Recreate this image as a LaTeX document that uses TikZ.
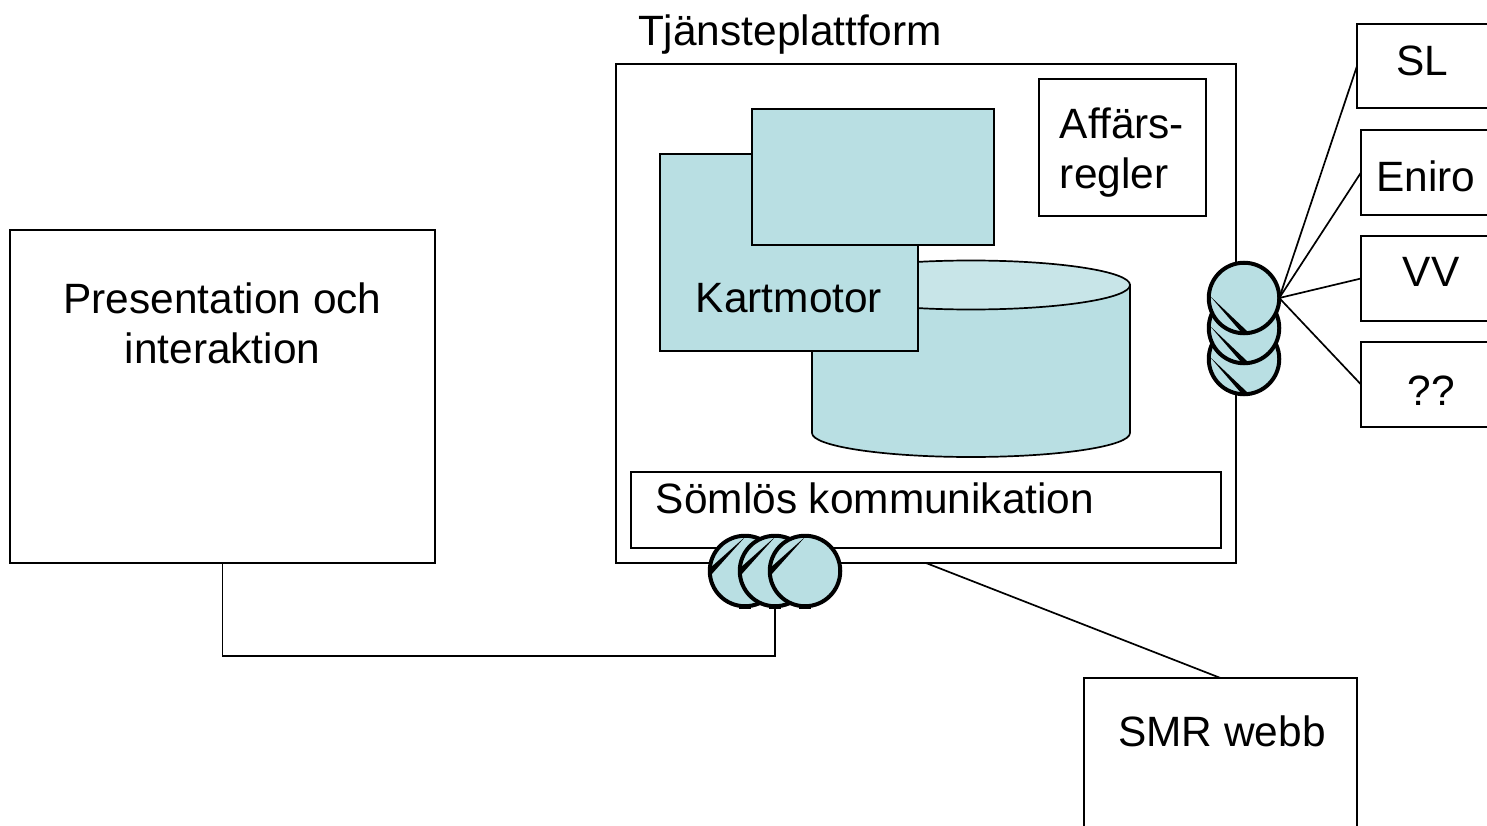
\documentclass[tikz,border=0pt]{standalone}
\usepackage{fontspec}
\setmainfont{Liberation Sans}
\usetikzlibrary{calc}
\definecolor{tealfill}{HTML}{B9DFE3}
\definecolor{tealtop}{HTML}{C8E5E8}
\tikzset{
  px/.style={x=1pt,y=-1pt},
  box/.style={draw=black,line width=1.7pt,fill=white,inner sep=0pt,outer sep=0pt,anchor=center},
  tealbox/.style={box,fill=tealfill},
  lbl/.style={inner sep=0pt,outer sep=0pt,align=center,font=\fontsize{42.4}{50}\selectfont},
  conn/.style={draw=black,line width=1.7pt},
  disc/.style={circle,draw=black,line width=4pt,fill=tealfill,minimum size=70.5pt,inner sep=0pt,outer sep=0pt},
}
\newcommand{\boxat}[7]{\node[#1,minimum width=#5pt-#3pt,minimum height=#6pt-#4pt] (#2) at ({(#3+#5)/2},{(#4+#6)/2}) {#7};}
\newcommand{\wedgeR}[1]{\fill[black] ($(#1)+(-34,-2)$) -- ($(#1)+(-3,34)$) -- ($(#1)+(3,33)$) -- cycle;}
\newcommand{\wedgeB}[1]{\fill[black] ($(#1)+(0,-34)$) -- ($(#1)+(-35,-3)$) -- ($(#1)+(-34,4)$) -- cycle;
  \fill[black] ($(#1)+(-6,35)$) rectangle ($(#1)+(6,38)$);}
\begin{document}
\begin{tikzpicture}[px]
\useasboundingbox (0,0) rectangle (1487,826);
\clip (0,0) rectangle (1487,826);
\boxat{box}{pres}{10}{230}{435}{563}{}
\boxat{box}{plat}{616}{64}{1236}{563}{}
\boxat{box}{smr}{1084}{678}{1357}{840}{}
\boxat{box}{sl}{1357}{24}{1500}{108}{}
\boxat{box}{eniro}{1361}{130}{1500}{215}{}
\boxat{box}{vv}{1361}{236}{1500}{321}{}
\boxat{box}{qq}{1361}{342}{1500}{427}{}
\boxat{box}{aff}{1039}{79}{1206}{216}{}
% cylinder
\path[fill=tealfill,draw=black,line width=1.7pt] (812,285) -- (812,433)
  arc[start angle=180,end angle=0,x radius=159,y radius=24] -- (1130,285) -- cycle;
\path[fill=tealtop,draw=black,line width=1.7pt] (971,285) ellipse[x radius=159,y radius=24.5];
\boxat{tealbox}{motor}{660}{154}{918}{351}{}
\boxat{tealbox}{top}{752}{109}{994}{245}{}
\boxat{box}{som}{631}{472}{1221}{548}{}
% discs
\node[disc] (r3) at (1244,359) {};
\wedgeR{r3.center}
\node[disc] (r2) at (1244,328) {};
\wedgeR{r2.center}
\node[disc] (r1) at (1244,298) {};
\wedgeR{r1.center}
\node[disc] (b1) at (745,571) {};
\wedgeB{b1.center}
\node[disc] (b2) at (775,571) {};
\wedgeB{b2.center}
\node[disc] (b3) at (805,571) {};
\wedgeB{b3.center}
% connectors
\coordinate (jog) at (775,656);
\draw[conn] (pres.south) |- (jog) -- (b2.south);
\draw[conn] (plat.south) -- (smr.north);
\draw[conn] (r1.east) -- (sl.west);
\draw[conn] (r1.east) -- (eniro.west);
\draw[conn] (r1.east) -- (vv.west);
\draw[conn] (r1.east) -- (qq.west);
% labels
\node[lbl] (t0) at (790,35) {Tjänsteplattform};
\node[lbl] (t1) at (222.5,323) {Presentation och\\interaktion};
\node[lbl] (t2) at (789,298) {Kartmotor};
\node[lbl,align=left] (t3) at (1122,153) {Affärs-\\regler};
\node[lbl] (t4) at (875,498) {Sömlös kommunikation};
\node[lbl] (t5) at (1222,731) {SMR webb};
\node[lbl] (t6) at (1422,61) {SL};
\node[lbl] (t7) at (1426,176) {Eniro};
\node[lbl] (t8) at (1431,272) {VV};
\node[lbl] (t9) at (1431,391) {??};
\end{tikzpicture}
\end{document}
